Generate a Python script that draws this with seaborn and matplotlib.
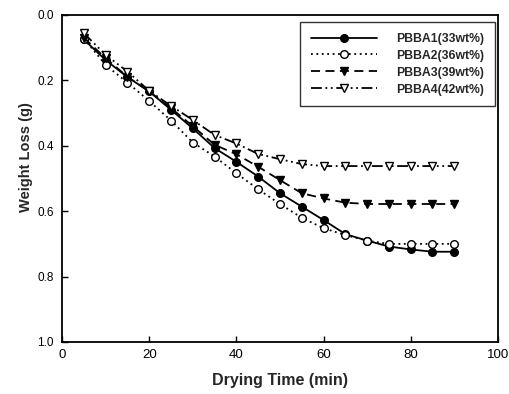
import matplotlib
matplotlib.use("Agg")
import matplotlib.pyplot as plt
import seaborn as sns
import pandas as pd

time_min = [5, 10, 15, 20, 25, 30, 35, 40, 45, 50, 55, 60, 65, 70, 75, 80, 85, 90]
pbba1 = [0.075, 0.138, 0.19, 0.234, 0.29, 0.347, 0.407, 0.449, 0.494, 0.545, 0.586, 0.627, 0.670, 0.690, 0.708, 0.717, 0.724, 0.724]
pbba2 = [0.072, 0.153, 0.207, 0.263, 0.323, 0.390, 0.433, 0.484, 0.533, 0.578, 0.620, 0.652, 0.673, 0.690, 0.700, 0.700, 0.700, 0.700]
pbba3 = [0.070, 0.132, 0.189, 0.234, 0.285, 0.340, 0.397, 0.426, 0.464, 0.505, 0.545, 0.561, 0.574, 0.578, 0.578, 0.578, 0.578, 0.578]
pbba4 = [0.056, 0.122, 0.173, 0.232, 0.278, 0.321, 0.367, 0.393, 0.425, 0.441, 0.456, 0.462, 0.462, 0.462, 0.462, 0.462, 0.462, 0.462]
labels = ["PBBA1(33wt%)", "PBBA2(36wt%)", "PBBA3(39wt%)", "PBBA4(42wt%)"]
x_ticks = [0, 20, 40, 60, 80, 100]
y_ticks = [0.0, 0.2, 0.4, 0.6, 0.8, 1.0]

sns.set_style("ticks")
plt.rcParams["font.family"] = ["Liberation Sans", "DejaVu Sans"]

fig = plt.figure(figsize=(5.09, 3.94), dpi=100)
ax = fig.add_axes([0.122, 0.132, 0.856, 0.83])

series = [pbba1, pbba2, pbba3, pbba4]
styles = [
    dict(linestyle="-", marker="o", mfc="black"),
    dict(linestyle=(0, (1, 2)), marker="o", mfc="white"),
    dict(linestyle=(0, (5, 3)), marker="v", mfc="black"),
    dict(linestyle=(0, (6, 2, 1, 2, 1, 2)), marker="v", mfc="white"),
]
for vals, lab, st in zip(series, labels, styles):
    df = pd.DataFrame({"t": time_min, "w": vals})
    sns.lineplot(data=df, x="t", y="w", ax=ax, color="black", linewidth=1.3,
                 linestyle=st["linestyle"], marker=st["marker"], markersize=5.5,
                 markerfacecolor=st["mfc"], markeredgecolor="black", markeredgewidth=1.0,
                 label=lab)

ax.set_xlim(0, 100)
ax.set_ylim(1.0, 0.0)
ax.set_xticks(x_ticks)
ax.set_yticks(y_ticks)
ax.set_xticklabels([str(v) for v in x_ticks])
ax.set_yticklabels([f"{v:.1f}" for v in y_ticks])
ax.tick_params(direction="in", length=4, width=1, colors="black")
ax.tick_params(axis="x", labelsize=9.5, pad=5)
ax.tick_params(axis="y", labelsize=8.5, pad=6)
for s in ax.spines.values():
    s.set_linewidth(1.3)
    s.set_color("black")
ax.set_xlabel("Drying Time (min)", fontsize=11.5, fontweight="bold", labelpad=9)
ax.set_ylabel("Weight Loss (g)", fontsize=10.5, fontweight="bold")
ax.yaxis.set_label_coords(-0.067, 0.566)

leg = ax.legend(loc="upper right", bbox_to_anchor=(0.993, 0.977), frameon=True, fancybox=False,
                edgecolor="black", prop={"weight": "bold", "size": 8.8},
                handlelength=5.4, labelspacing=0.4, borderpad=0.85, handletextpad=1.6,
                borderaxespad=0.0)
leg.get_frame().set_linewidth(1.0)

fig.savefig("out.png", dpi=100)
